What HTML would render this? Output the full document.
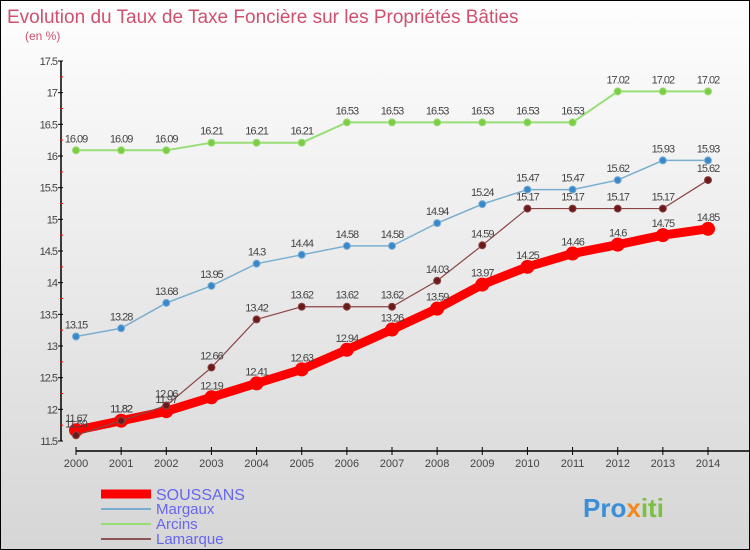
<!DOCTYPE html>
<html><head><meta charset="utf-8"><style>
body{margin:0;}
#wrap{position:relative;width:748px;height:548px;border:1px solid #000;background:linear-gradient(#fefefe,#d6d6d6);font-family:"Liberation Sans",sans-serif;overflow:hidden}
svg text{font-family:"Liberation Sans",sans-serif}
</style></head><body>
<div id="wrap">
<svg id="c" width="748" height="548">
<text x="6" y="22" font-size="19" fill="#d0506e">Evolution du Taux de Taxe Foncière sur les Propriétés Bâties</text>
<text x="24" y="39" font-size="12" fill="#d0506e">(en %)</text>
<g id="axes"></g><g id="series"></g>
<g>
<line x1="100" y1="493" x2="150" y2="493" stroke="#f00" stroke-width="9"/>
<text x="155" y="499" font-size="16" fill="#6666ee">SOUSSANS</text>
<line x1="100" y1="508" x2="150" y2="508" stroke="#7aaed0" stroke-width="2"/>
<text x="155" y="513" font-size="15" fill="#6666ee">Margaux</text>
<line x1="100" y1="523" x2="150" y2="523" stroke="#99dd77" stroke-width="2"/>
<text x="155" y="528" font-size="15" fill="#6666ee">Arcins</text>
<line x1="100" y1="538" x2="150" y2="538" stroke="#8b5555" stroke-width="2"/>
<text x="155" y="543" font-size="15" fill="#6666ee">Lamarque</text>
</g>
<text x="582" y="516" font-size="26" font-weight="bold" fill="#3a8fd8">Pro<tspan fill="#f08a20">x</tspan><tspan fill="#7bc043">iti</tspan></text>
</svg></div>
<script>
const years=[2000,2001,2002,2003,2004,2005,2006,2007,2008,2009,2010,2011,2012,2013,2014];
const soussans=[11.67,11.82,11.97,12.19,12.41,12.63,12.94,13.26,13.59,13.97,14.25,14.46,14.6,14.75,14.85];
const margaux=[13.15,13.28,13.68,13.95,14.3,14.44,14.58,14.58,14.94,15.24,15.47,15.47,15.62,15.93,15.93];
const arcins=[16.09,16.09,16.09,16.21,16.21,16.21,16.53,16.53,16.53,16.53,16.53,16.53,17.02,17.02,17.02];
const lamarque=[11.59,11.82,12.06,12.66,13.42,13.62,13.62,13.62,14.03,14.59,15.17,15.17,15.17,15.17,15.62];
const yTicks=[11.5,12,12.5,13,13.5,14,14.5,15,15.5,16,16.5,17,17.5];
const NS='http://www.w3.org/2000/svg';
const X=i=>75+i*(632/14);
const Y=v=>440-(v-11.5)*(380/6);
function mk(t,a,p){const e=document.createElementNS(NS,t);for(const k in a)e.setAttribute(k,a[k]);p.appendChild(e);return e;}
const ax=document.getElementById('axes');
let yl=mk('line',{x1:60,y1:Y(17.5),x2:60,y2:Y(11.5),stroke:'#000','stroke-width':1.5},ax);


let xl=mk('line',{x1:75,y1:450,x2:748,y2:450,stroke:'#000','stroke-width':1.5},ax);


yTicks.forEach(v=>{
  mk('line',{x1:57,y1:Y(v),x2:62,y2:Y(v),stroke:'#000'},ax);
  mk('line',{x1:59,y1:Y(v+0.25),x2:62,y2:Y(v+0.25),stroke:v<17.5?'#f00':'none'},ax);
  const t=mk('text',{x:56,y:Y(v)+4,'font-size':11,fill:'#444','text-anchor':'end','letter-spacing':'-1'},ax);t.textContent=v;
  
  
});
years.forEach((y,i)=>{
  mk('line',{x1:X(i),y1:446,x2:X(i),y2:454,stroke:'#000'},ax);
  const t=mk('text',{x:X(i),y:466,'font-size':11,fill:'#444','text-anchor':'middle'},ax);t.textContent=y;
  
  
});
const sg=document.getElementById('series');
function draw(name,vals,color,w,r,mc){
  const g=mk('g',{},sg);
  
  
  mk('polyline',{points:vals.map((v,i)=>X(i)+','+Y(v)).join(' '),fill:'none',stroke:color,'stroke-width':w},g);
  vals.forEach((v,i)=>{
    const c=mk('circle',{cx:X(i),cy:Y(v),r:r,fill:mc,stroke:color,'stroke-width':1},g);
    
    
    const t=mk('text',{x:X(i),y:Y(v)-8,'font-size':11,fill:'#444','text-anchor':'middle','letter-spacing':'-1'},g);t.textContent=v;
    
    
  });
}
draw('arcins',arcins,'#99dd77',2,3.5,'#7ccc44');
draw('margaux',margaux,'#7aaed0',1.5,3.5,'#3a88cc');
draw('soussans',soussans,'#f00',9,6.5,'#f00');
draw('lamarque',lamarque,'#8b4545',1.2,3.5,'#6a1a1a');
</script>
</body></html>
